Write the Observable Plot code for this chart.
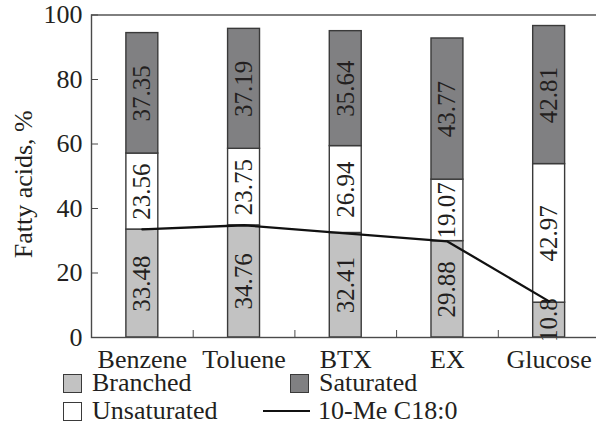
<!DOCTYPE html>
<html><head><meta charset="utf-8">
<style>
html,body{margin:0;background:#fff;color:#231f20}
#wrap{position:relative;width:596px;height:422px;overflow:hidden;font-family:'Liberation Serif', serif}
#wrap svg{position:absolute;left:0;top:0}
.leg{position:absolute;display:flex;align-items:center;font-size:26px;line-height:26px;white-space:nowrap;font-family:'Liberation Serif', serif}
.sw{width:19px;height:19px;border:1.3px solid #3a3a3a;box-sizing:border-box;margin-right:10px}
.ln{width:47px;height:2.5px;background:#111;margin-right:8px}
</style>
<script src="https://cdn.jsdelivr.net/npm/d3@7"></script>
<script src="https://cdn.jsdelivr.net/npm/@observablehq/plot@0.6"></script>
</head><body><div id="wrap"></div>
<script>
const categories = ["Benzene", "Toluene", "BTX", "EX", "Glucose"];
const branched = [33.48, 34.76, 32.41, 29.88, 10.8];
const unsaturated = [23.56, 23.75, 26.94, 19.07, 42.97];
const saturated = [37.35, 37.19, 35.64, 43.77, 42.81];
const meC18 = [33.5, 34.8, 32.3, 29.8, 11.2];
const yTicks = [0, 20, 40, 60, 80, 100];
const seriesNames = ["Branched", "Unsaturated", "Saturated"];
const lineName = "10-Me C18:0";

const serif = "Liberation Serif";
const fills = {Branched: "#c2c2c2", Unsaturated: "#ffffff", Saturated: "#808082"};
const seriesValues = [branched, unsaturated, saturated];

const rows = [];
categories.forEach((c, i) => {
  let acc = 0;
  seriesValues.forEach((arr, s) => {
    const v = arr[i];
    rows.push({i, cat: c, series: seriesNames[s], value: v, y1: acc, y2: acc + v, label: String(v)});
    acc += v;
  });
});
const lineRows = categories.map((c, i) => ({i, v: meC18[i]}));
const half = 0.157;

const chart = Plot.plot({
  width: 596, height: 422,
  marginLeft: 91, marginRight: -3.5, marginTop: 14.5, marginBottom: 85,
  style: {fontFamily: serif, fontSize: "26px", color: "#231f20", background: "#fff", overflow: "hidden"},
  x: {domain: [-0.5, 4.5], label: null},
  y: {domain: [0, 100], label: null},
  color: {type: "identity"},
  marks: [
    Plot.rectY(rows, {x1: d => d.i - half, x2: d => d.i + half, y1: "y1", y2: "y2",
      fill: d => fills[d.series], stroke: "#3a3a3a", strokeWidth: 1.4}),
    Plot.text(rows, {x: "i", y: d => (d.y1 + d.y2) / 2, text: "label", rotate: -90,
      fontSize: 25, fill: "#231f20", fontFamily: serif}),
    Plot.line(lineRows, {x: "i", y: "v", stroke: "#111", strokeWidth: 2.3}),
    Plot.axisY({ticks: yTicks, tickSize: -7, tickPadding: 16, fontSize: 26, stroke: "#4a4a4a", fill: "#231f20", fontFamily: serif, label: null}),
    Plot.axisX({ticks: [0.5, 1.5, 2.5, 3.5], tickSize: -7, tickFormat: () => "", stroke: "#4a4a4a", label: null}),
    Plot.axisX({ticks: [0, 1, 2, 3, 4], tickSize: 0, tickPadding: 12, tickFormat: i => categories[i], fontSize: 26, fill: "#231f20", fontFamily: serif, label: null}),
    Plot.frame({stroke: "#4a4a4a", strokeWidth: 1.4}),
    Plot.text(["Fatty acids, %"], {frameAnchor: "left", textAnchor: "middle", rotate: -90, dx: -68, dy: 8, fontSize: 26, fill: "#231f20", fontFamily: serif})
  ]
});
const wrap = document.getElementById("wrap");
wrap.appendChild(chart);

const legendItems = [
  {name: seriesNames[0], kind: "sw", left: 63, top: 370},
  {name: seriesNames[2], kind: "sw", left: 290, top: 370},
  {name: seriesNames[1], kind: "sw", left: 63, top: 398},
  {name: lineName, kind: "ln", left: 263, top: 398}
];
legendItems.forEach(it => {
  const d = document.createElement("div");
  d.className = "leg";
  d.style.left = it.left + "px";
  d.style.top = it.top + "px";
  const m = document.createElement("span");
  m.className = it.kind;
  if (it.kind === "sw") m.style.background = fills[it.name];
  d.appendChild(m);
  const t = document.createElement("span");
  t.textContent = it.name;
  d.appendChild(t);
  wrap.appendChild(d);
});
</script></body></html>
